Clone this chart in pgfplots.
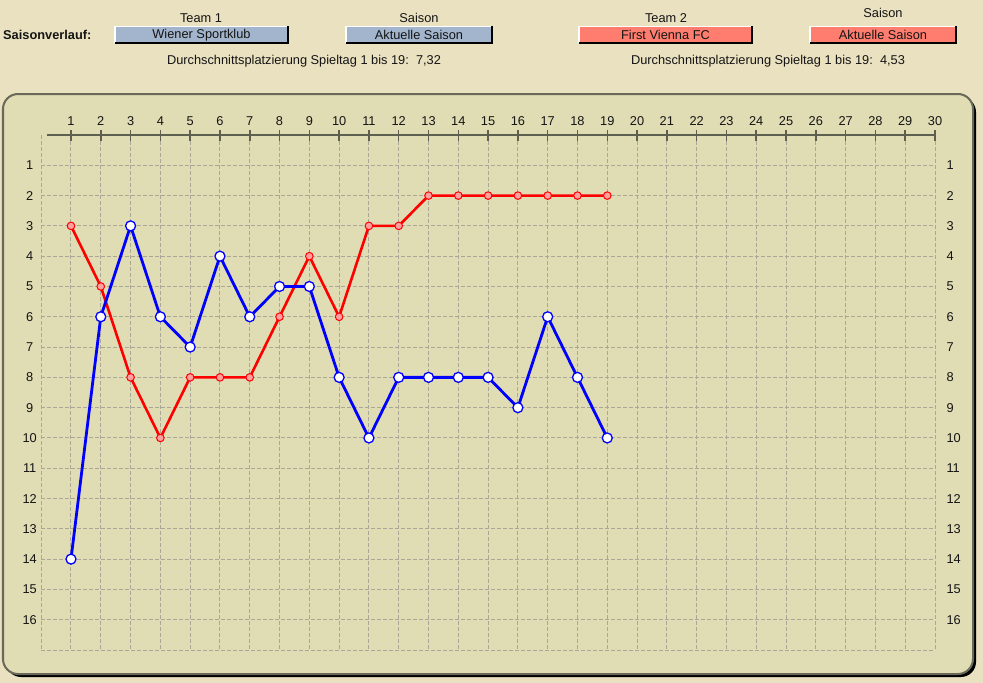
\documentclass[border=0pt]{standalone}
\usepackage{pgfplots}
\pgfplotsset{compat=1.18}
\usepackage{pgfplotstable}
\usepackage{fontspec}
\setmainfont{Liberation Sans}
\definecolor{outerbg}{RGB}{234,225,192}
\definecolor{innerbg}{RGB}{224,220,180}
\definecolor{boxblue}{RGB}{162,181,204}
\definecolor{boxred}{RGB}{255,125,110}
\definecolor{gridc}{RGB}{170,167,152}
\definecolor{axc}{RGB}{95,95,80}
\definecolor{panelborder}{RGB}{105,105,90}
\definecolor{redfill}{RGB}{255,160,160}
\definecolor{txt}{RGB}{20,20,20}

\pgfplotstableread{
x r
1 14
2 6
3 3
4 6
5 7
6 4
7 6
8 5
9 5
10 8
11 10
12 8
13 8
14 8
15 8
16 9
17 6
18 8
19 10
}\teamA
\pgfplotstableread{
x r
1 3
2 5
3 8
4 10
5 8
6 8
7 8
8 6
9 4
10 6
11 3
12 3
13 2
14 2
15 2
16 2
17 2
18 2
19 2
}\teamB

\begin{document}
\begin{tikzpicture}
\useasboundingbox (0,0) rectangle (983bp,-683bp);
\fill[outerbg] (0,0) rectangle (983bp,-683bp);
\begin{scope}[x=1bp,y=-1bp,font=\fontsize{12.8bp}{14bp}\selectfont,text=txt]
% panel
\fill[black, rounded corners=15bp] (6,97) rectangle (976,677);
\fill[innerbg, rounded corners=15bp] (3,94) rectangle (973,674);
\draw[panelborder, line width=2bp, rounded corners=15bp] (3,94) rectangle (973,674);
% header
\node[anchor=west, inner sep=0pt, font=\fontsize{12.8bp}{14bp}\selectfont\bfseries] at (3,35) {Saisonverlauf:};
\node at (201,18) {Team 1};
\node at (419,18) {Saison};
\node at (666,18) {Team 2};
\node at (883,13) {Saison};
% boxes
\foreach \xa/\xb/\c/\t in {115/288/boxblue/Wiener Sportklub, 346/492/boxblue/Aktuelle Saison, 579/752/boxred/First Vienna FC, 810/956/boxred/Aktuelle Saison}{
  \fill[\c] (\xa,26) rectangle (\xb,43);
  \draw[white, line width=1.5bp] (\xa,43) -- (\xa,26.5) -- (\xb,26.5);
  \draw[black, line width=1.5bp] (\xa,43) -- (\xb,43) -- (\xb,26);
  \node at ({(\xa+\xb)/2},35) {\t};
}
\node at (304,61) {Durchschnittsplatzierung Spieltag 1 bis 19:\ \ 7,32};
\node at (768,61) {Durchschnittsplatzierung Spieltag 1 bis 19:\ \ 4,53};
\end{scope}

\begin{axis}[
  at={(41.2bp,-135bp)}, anchor=north west,
  scale only axis, width=893.8bp, height=515bp,
  xmin=0, xmax=30, ymin=0, ymax=17, y dir=reverse,
  clip=false,
  axis line style={draw=none},
  xtick={1,...,30}, ytick={1,...,16},
  extra x ticks={0}, extra x tick labels={},
  extra y ticks={17}, extra y tick labels={},
  extra tick style={grid=major, major tick length=0pt},
  grid=major,
  grid style={gridc, line width=1bp, dash pattern=on 4bp off 2bp},
  xtick pos=right, xticklabel pos=right,
  xtick style={draw=axc, line width=1.5bp},
  ytick style={draw=none},
  tick align=center,
  major tick length=11bp,
  tick label style={font=\fontsize{12.8bp}{14bp}\selectfont, text=txt},
  /pgf/number format/assume math mode=true,
  xticklabel style={yshift=0bp},
  yticklabel style={anchor=center, xshift=-6bp},
]
\draw[axc, line width=2bp] (axis cs:0.2,0) -- (axis cs:30,0);
\addplot[red, line width=2.6bp, mark=*, mark size=3.8bp, mark options={fill=redfill, draw=red, line width=1bp}] table[x=x,y=r] {\teamB};
\addplot[blue, line width=2.8bp, mark=*, mark size=5bp, mark options={fill=white, draw=blue, line width=1.3bp}] table[x=x,y=r] {\teamA};
\end{axis}

\begin{axis}[
  at={(41.2bp,-135bp)}, anchor=north west,
  scale only axis, width=893.8bp, height=515bp,
  xmin=0, xmax=30, ymin=0, ymax=17, y dir=reverse,
  axis line style={draw=none},
  xtick=\empty, ytick={1,...,16},
  ytick style={draw=none},
  yticklabel pos=right,
  tick label style={font=\fontsize{12.8bp}{14bp}\selectfont, text=txt},
  /pgf/number format/assume math mode=true,
  yticklabel style={anchor=west, xshift=8bp},
]
\end{axis}
\end{tikzpicture}
\end{document}
